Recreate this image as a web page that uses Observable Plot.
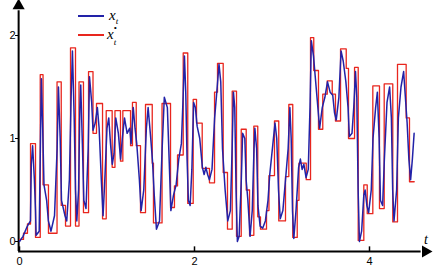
<!DOCTYPE html>
<html><head><meta charset="utf-8">
<script src="https://cdn.jsdelivr.net/npm/d3@7"></script>
<script src="https://cdn.jsdelivr.net/npm/@observablehq/plot@0.6"></script>
<style>
body{margin:0;background:#fff;}
#wrap{position:relative;width:436px;height:271px;}
.lg{position:absolute;font-family:"Liberation Serif",serif;font-style:italic;font-size:15px;line-height:15px;color:#000;}
.sw{position:absolute;height:2px;}
</style></head>
<body><div id="wrap"></div>
<script>
// red step series x_t* : step start times and held values
const redT = [0,0.046,0.091,0.126,0.183,0.237,0.269,0.331,0.429,0.477,0.526,0.583,0.640,0.680,0.731,0.789,0.840,0.880,0.949,0.991,1.059,1.091,1.154,1.181,1.269,1.291,1.334,1.383,1.440,1.517,1.531,1.629,1.726,1.771,1.806,1.871,1.923,1.985,2.023,2.088,2.171,2.229,2.263,2.328,2.377,2.431,2.480,2.534,2.591,2.629,2.678,2.723,2.754,2.823,2.851,2.914,2.963,3.040,3.078,3.123,3.174,3.194,3.277,3.326,3.363,3.417,3.466,3.517,3.574,3.611,3.669,3.734,3.760,3.829,3.871,3.935,3.974,4.038,4.114,4.168,4.266,4.320,4.419,4.457,4.511];
const redV = [0.02,0.08,0.17,0.95,0.04,1.62,0.55,0.08,1.55,0.35,0.15,1.88,0.15,1.55,0.28,1.65,1.05,1.34,0.22,1.27,0.72,1.27,0.78,1.27,0.93,1.35,0.93,0.28,1.33,0.76,0.18,1.34,0.33,0.54,0.84,1.83,0.37,1.38,1.15,0.71,0.57,1.45,1.73,0.67,0.12,1.46,0.05,1.09,0.5,0.06,1.12,0.24,0.12,0.3,0.64,1.17,0.2,0.63,1.33,0.04,0.4,0.76,0.6,1.98,1.66,1.09,1.43,1.56,1.43,1.17,1.87,1.68,1.0,1.69,0.01,0.55,0.27,1.51,0.32,1.53,0.19,1.72,1.2,0.58,0.58];
// blue series x_t
const blueT = [0,0.04,0.09,0.125,0.135,0.15,0.17,0.183,0.19,0.225,0.24,0.25,0.265,0.28,0.31,0.33,0.36,0.4,0.43,0.445,0.465,0.48,0.52,0.54,0.57,0.59,0.605,0.625,0.64,0.655,0.675,0.69,0.7,0.72,0.735,0.76,0.785,0.8,0.825,0.84,0.865,0.89,0.91,0.935,0.955,0.975,1.0,1.02,1.04,1.06,1.08,1.1,1.13,1.155,1.175,1.2,1.23,1.26,1.275,1.3,1.32,1.34,1.37,1.39,1.42,1.45,1.47,1.5,1.52,1.54,1.565,1.6,1.63,1.655,1.69,1.71,1.73,1.76,1.79,1.82,1.85,1.87,1.885,1.9,1.915,1.93,1.95,1.97,1.99,2.01,2.03,2.06,2.09,2.11,2.13,2.15,2.17,2.2,2.23,2.25,2.28,2.3,2.32,2.35,2.38,2.41,2.43,2.445,2.46,2.475,2.49,2.51,2.535,2.55,2.575,2.59,2.61,2.635,2.66,2.68,2.69,2.71,2.725,2.75,2.78,2.81,2.84,2.86,2.89,2.92,2.94,2.96,2.98,3.01,3.04,3.07,3.09,3.105,3.12,3.135,3.16,3.19,3.21,3.23,3.25,3.275,3.3,3.32,3.335,3.36,3.38,3.41,3.43,3.46,3.49,3.52,3.55,3.58,3.6,3.62,3.65,3.675,3.7,3.73,3.755,3.77,3.8,3.82,3.84,3.855,3.87,3.885,3.91,3.935,3.95,3.97,3.99,4.02,4.04,4.07,4.09,4.11,4.125,4.15,4.17,4.2,4.23,4.25,4.265,4.28,4.31,4.33,4.36,4.39,4.41,4.43,4.45,4.47,4.49,4.51];
const blueV = [0,0.05,0.15,0.2,0.75,0.93,0.6,0.3,0.06,0.1,1.0,1.58,1.1,0.55,0.4,0.2,0.1,0.25,0.9,1.5,1.0,0.4,0.25,0.2,0.6,1.4,1.85,1.2,0.5,0.2,0.5,1.3,1.52,0.9,0.4,0.32,0.9,1.6,1.35,1.08,1.15,1.3,1.1,0.6,0.25,0.6,1.1,1.2,0.95,0.75,0.85,1.2,1.05,0.8,1.0,1.2,1.05,1.1,0.95,1.3,1.1,0.95,0.6,0.3,0.5,1.1,1.3,1.0,0.78,0.45,0.12,0.2,0.9,1.4,1.3,0.8,0.3,0.45,0.55,0.8,0.95,1.4,1.8,1.45,0.8,0.4,0.35,0.7,1.35,1.3,1.12,1.0,0.72,0.65,0.72,0.65,0.6,0.7,1.2,1.4,1.72,1.55,0.9,0.5,0.2,0.3,0.9,1.45,1.3,0.5,0.0,0.05,0.6,1.05,1.0,0.6,0.4,0.05,0.3,0.9,1.1,0.9,0.35,0.15,0.13,0.2,0.4,0.65,0.9,1.15,1.0,0.5,0.22,0.3,0.6,0.9,1.3,1.0,0.3,0.03,0.3,0.72,0.8,0.7,0.75,0.62,0.7,1.3,1.95,1.8,1.6,1.3,1.1,1.3,1.4,1.55,1.45,1.42,1.25,1.18,1.4,1.85,1.75,1.55,1.3,1.02,1.05,1.3,1.65,1.4,0.5,0.0,0.1,0.45,0.5,0.35,0.28,0.5,1.0,1.3,1.45,1.0,0.4,0.35,0.8,1.35,1.5,1.2,0.5,0.2,0.5,1.2,1.5,1.65,1.4,1.15,0.8,0.6,0.8,1.05];
const xTicks = [0,2,4];
const yTicks = [0,1,2];
const axisV = -0.097;   // level of the time axis
const axisEndT = 4.64;  // end of the time axis arrow
const axisTopV = 2.29;  // top of the value axis arrow

const red = redT.map((t,i)=>({t, v:redV[i]}));
const blue = blueT.map((t,i)=>({t, v:blueV[i]}));

const chart = Plot.plot({
  width:436, height:271,
  marginLeft:18, marginBottom:20, marginTop:0, marginRight:0,
  style:{fontFamily:"Liberation Sans, Arial, sans-serif", fontSize:"11px", color:"#000"},
  x:{domain:[0,4], range:[19,369]},
  y:{domain:[0,2], range:[241,35]},
  marks:[
    Plot.ruleY([axisV], {x1:-0.01, x2:axisEndT - 0.05, stroke:"#000", strokeWidth:2}),
    Plot.ruleX([-0.01], {y1:axisV, y2:axisTopV - 0.05, stroke:"#000", strokeWidth:2}),
    Plot.dot([axisEndT], {x:d=>d, y:axisV, symbol:"triangle", rotate:90, r:4.5, fill:"#000", stroke:null}),
    Plot.dot([axisTopV], {x:-0.01, y:d=>d, symbol:"triangle", r:4.5, fill:"#000", stroke:null}),
    Plot.ruleX(xTicks, {y1:axisV, y2:axisV+0.045, stroke:"#000", strokeWidth:1.5}),
    Plot.axisX({ticks:xTicks, tickSize:0, tickPadding:6, tickFormat:d=>String(d), label:null}),
    Plot.axisY({ticks:yTicks, tickSize:3, tickPadding:0, tickFormat:d=>String(d), label:null}),
    Plot.line(red, {x:"t", y:"v", curve:"step-after", stroke:"#e8261e", strokeWidth:1.3}),
    Plot.line(blue, {x:"t", y:"v", stroke:"#2222a8", strokeWidth:1.5})
  ]
});
const wrap = document.getElementById("wrap");
wrap.appendChild(chart);
wrap.insertAdjacentHTML("beforeend",
 `<div class="sw" style="left:78px;top:15px;width:26px;background:#2222a8"></div>
  <div class="lg" style="left:109px;top:8px">x<span style="font-size:9px;position:relative;top:4px">t</span></div>
  <div class="sw" style="left:78px;top:34px;width:26px;background:#e8261e"></div>
  <div class="lg" style="left:107px;top:27px">x<span style="display:inline-block;width:6px;font-size:9px;line-height:9px;vertical-align:top;position:relative;top:-3px;font-style:normal">•<br><i style="position:relative;top:5px">t</i></span></div>
  <div class="lg" style="left:424px;top:232px;font-size:14px">t</div>`);
</script></body></html>
